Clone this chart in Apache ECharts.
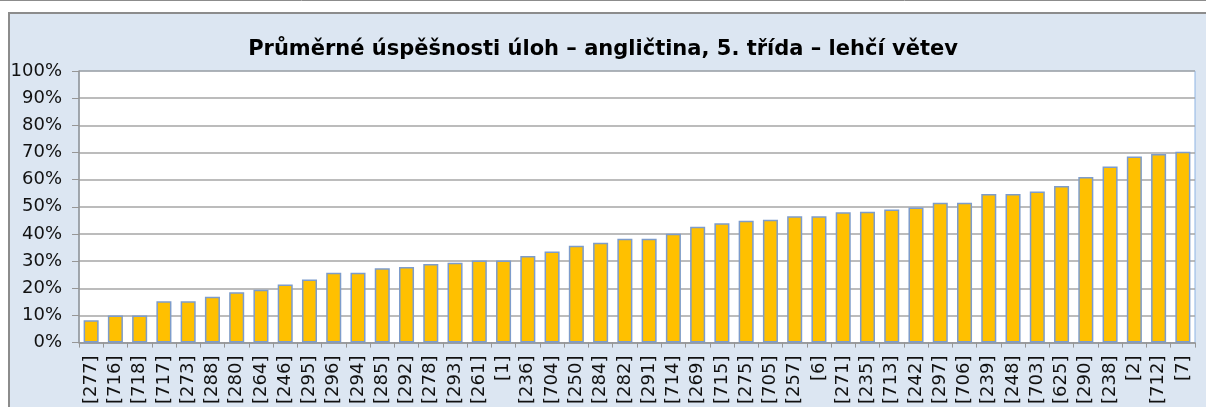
<!DOCTYPE html>
<html>
<head>
<meta charset="utf-8">
<script src="https://cdn.jsdelivr.net/npm/echarts@6/dist/echarts.min.js"></script>
<style>
  html, body { margin: 0; padding: 0; background: #fff; }
  #chart { width: 1206px; height: 407px; }
</style>
</head>
<body>
<div id="chart"></div>
<script>
const categories = ["[277]", "[716]", "[718]", "[717]", "[273]", "[288]", "[280]", "[264]", "[246]", "[295]",
  "[296]", "[294]", "[285]", "[292]", "[278]", "[293]", "[261]", "[1]", "[236]", "[704]",
  "[250]", "[284]", "[282]", "[291]", "[714]", "[269]", "[715]", "[275]", "[705]", "[257]",
  "[6]", "[271]", "[235]", "[713]", "[242]", "[297]", "[706]", "[239]", "[248]", "[703]",
  "[625]", "[290]", "[238]", "[2]", "[712]", "[7]"];

const success = [8.2, 10.0, 10.0, 15.2, 15.2, 16.9, 18.5, 19.5, 21.4, 23.2,
  25.7, 25.7, 27.4, 27.8, 28.9, 29.4, 30.2, 30.2, 31.9, 33.5,
  35.7, 36.8, 38.2, 38.2, 40.1, 42.7, 43.9, 44.9, 45.2, 46.5,
  46.5, 48.0, 48.2, 49.0, 49.7, 51.5, 51.5, 54.7, 54.7, 55.6,
  57.7, 61.0, 64.8, 68.5, 69.4, 70.3];

const title = "Průměrné úspěšnosti úloh – angličtina, 5. třída – lehčí větev";

const chart = echarts.init(document.getElementById("chart"));

const option = {
  animation: false,
  textStyle: { fontFamily: "DejaVu Sans" },
  graphic: [
    {
      type: "line",
      z: -10,
      shape: { x1: 0, y1: 0.5, x2: 1206, y2: 0.5 },
      style: { stroke: "#8c8c8c", lineWidth: 1 },
    },
    {
      type: "rect",
      z: -10,
      shape: { x: 9, y: 13, width: 1210, height: 420 },
      style: { fill: "#dce6f2", stroke: "#8c8c8c", lineWidth: 2 },
    },
  ],
  title: {
    text: title,
    left: "center",
    top: 34,
    textStyle: {
      fontFamily: "DejaVu Sans",
      fontWeight: "bold",
      fontSize: 21,
      color: "#000",
    },
  },
  grid: {
    left: 79,
    right: 11,
    top: 71,
    bottom: 63,
    show: true,
    backgroundColor: "#fff",
    borderColor: "#8eb4e3",
    borderWidth: 1,
  },
  xAxis: {
    type: "category",
    data: categories,
    axisLine: { lineStyle: { color: "#969696", width: 1.5 } },
    axisTick: { show: true, length: 5, lineStyle: { color: "#969696" } },
    axisLabel: {
      rotate: 90,
      interval: 0,
      fontSize: 18,
      color: "#111",
      margin: 13,
    },
  },
  yAxis: {
    type: "value",
    min: 0,
    max: 100,
    interval: 10,
    axisLine: { show: true, lineStyle: { color: "#969696", width: 1.5 } },
    axisTick: { show: true, length: 7, lineStyle: { color: "#969696" } },
    axisLabel: {
      formatter: "{value}%",
      fontSize: 18,
      color: "#111",
      margin: 17,
    },
    splitLine: { lineStyle: { color: "#a6a6a6", width: 1.5 } },
  },
  series: [
    {
      type: "bar",
      data: success,
      barWidth: "62%",
      itemStyle: {
        color: "#ffc000",
        borderColor: "#7d9ccb",
        borderWidth: 1.5,
      },
    },
  ],
};

chart.setOption(option);
</script>
</body>
</html>
